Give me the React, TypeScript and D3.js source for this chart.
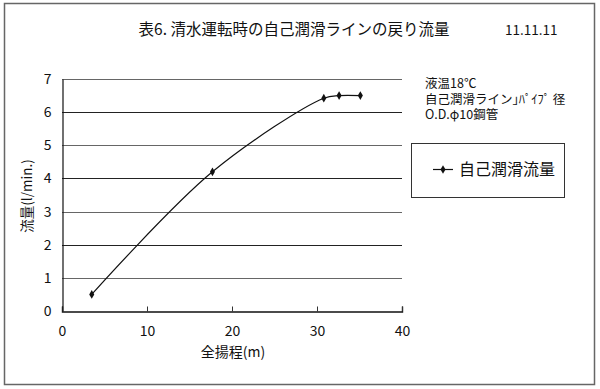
import { useEffect, useRef } from "react";
import * as d3 from "d3";

// 全揚程 (m)
const heads = [3.5, 17.7, 30.8, 32.6, 35.1];
// 自己潤滑流量 (l/min.)
const flows = [0.5, 4.2, 6.42, 6.5, 6.5];
const xTicks = [0, 10, 20, 30, 40];
const yTicks = [0, 1, 2, 3, 4, 5, 6, 7];
const noteLines = ["液温18℃", "自己潤滑ライン｣ﾊﾟｲﾌﾟ 径", "O.D.φ10鋼管"];

const W = 600;
const H = 389;
const FONT = "'Noto Sans CJK JP', 'Noto Sans', sans-serif";

export default function App() {
  const ref = useRef<SVGSVGElement>(null);

  useEffect(() => {
    const svg = d3.select(ref.current);
    svg.selectAll("*").remove();

    const x = d3.scaleLinear().domain([0, 40]).range([62, 402]);
    const y = d3.scaleLinear().domain([0, 7]).range([311, 79]);

    // outer frame
    svg
      .append("rect")
      .attr("x", 4.5)
      .attr("y", 3.5)
      .attr("width", 590)
      .attr("height", 381)
      .attr("fill", "#fff")
      .attr("stroke", "#666")
      .attr("stroke-width", 1.5);

    svg
      .append("text")
      .attr("x", 294)
      .attr("y", 35)
      .attr("text-anchor", "middle")
      .attr("font-size", 15.5)
      .text("表6. 清水運転時の自己潤滑ラインの戻り流量");

    svg
      .append("text")
      .attr("x", 505)
      .attr("y", 35)
      .attr("font-size", 13.5)
      .text("11.11.11");

    // horizontal gridlines
    svg
      .append("g")
      .selectAll("line")
      .data(yTicks.filter((t) => t > 0))
      .join("line")
      .attr("x1", x(0))
      .attr("x2", x(40))
      .attr("y1", (d) => Math.round(y(d)) + 0.5)
      .attr("y2", (d) => Math.round(y(d)) + 0.5)
      .attr("stroke", (d, i) => (i % 2 ? "#222" : "#666"))
      .attr("stroke-width", 1.2);

    // x axis with inward ticks
    const xAxis = svg
      .append("g")
      .attr("transform", `translate(0,${Math.round(y(0)) + 0.5})`)
      .call(d3.axisBottom(x).tickValues(xTicks).tickSize(-5).tickPadding(15));
    xAxis.select(".domain").attr("stroke", "#111").attr("stroke-width", 1.4);
    xAxis.selectAll(".tick line").attr("stroke", "#333");
    xAxis.selectAll(".tick text").attr("font-size", 14).attr("font-family", FONT).attr("fill", "#111");

    const yAxis = svg
      .append("g")
      .attr("transform", `translate(${Math.round(x(0)) + 0.5},0)`)
      .call(d3.axisLeft(y).tickValues(yTicks).tickFormat(d3.format("d")).tickSize(0).tickPadding(11));
    yAxis.select(".domain").attr("stroke", "#111").attr("stroke-width", 1.2);
    yAxis.selectAll(".tick text").attr("font-size", 14).attr("font-family", FONT).attr("fill", "#111");

    svg
      .append("text")
      .attr("x", 233)
      .attr("y", 357)
      .attr("text-anchor", "middle")
      .attr("font-size", 14)
      .text("全揚程(m)");

    svg
      .append("text")
      .attr("transform", "translate(32,196) rotate(-90)")
      .attr("text-anchor", "middle")
      .attr("font-size", 13.5)
      .text("流量(l/min.)");

    const pts = heads.map((h, i) => [h, flows[i]] as [number, number]);
    const line = d3
      .line<[number, number]>()
      .x((d) => x(d[0]))
      .y((d) => y(d[1]))
      .curve(d3.curveCatmullRom.alpha(0.5));

    svg
      .append("path")
      .attr("d", line(pts))
      .attr("fill", "none")
      .attr("stroke", "#111")
      .attr("stroke-width", 1.2);

    const diamond = d3.symbol().type(d3.symbolDiamond).size(22);
    svg
      .append("g")
      .selectAll("path")
      .data(pts)
      .join("path")
      .attr("transform", (d) => `translate(${x(d[0])},${y(d[1])})`)
      .attr("d", diamond())
      .attr("fill", "#111");

    // notes
    svg
      .append("g")
      .selectAll("text")
      .data(noteLines)
      .join("text")
      .attr("x", 425)
      .attr("y", (d, i) => 88 + i * 15.5)
      .attr("font-size", 12.5)
      .text((d) => d);

    // legend
    svg
      .append("rect")
      .attr("x", 411.5)
      .attr("y", 143.5)
      .attr("width", 153)
      .attr("height", 54)
      .attr("fill", "none")
      .attr("stroke", "#333");
    svg
      .append("line")
      .attr("x1", 433)
      .attr("x2", 453)
      .attr("y1", 169.5)
      .attr("y2", 169.5)
      .attr("stroke", "#111")
      .attr("stroke-width", 1.2);
    svg
      .append("path")
      .attr("transform", "translate(443,169.5)")
      .attr("d", diamond())
      .attr("fill", "#111");
    svg
      .append("text")
      .attr("x", 459)
      .attr("y", 175)
      .attr("font-size", 16)
      .text("自己潤滑流量");
  }, []);

  return (
    <svg
      ref={ref}
      width={W}
      height={H}
      fontFamily={FONT}
      fill="#111"
      style={{ position: "absolute", left: 0, top: 0 }}
    />
  );
}
